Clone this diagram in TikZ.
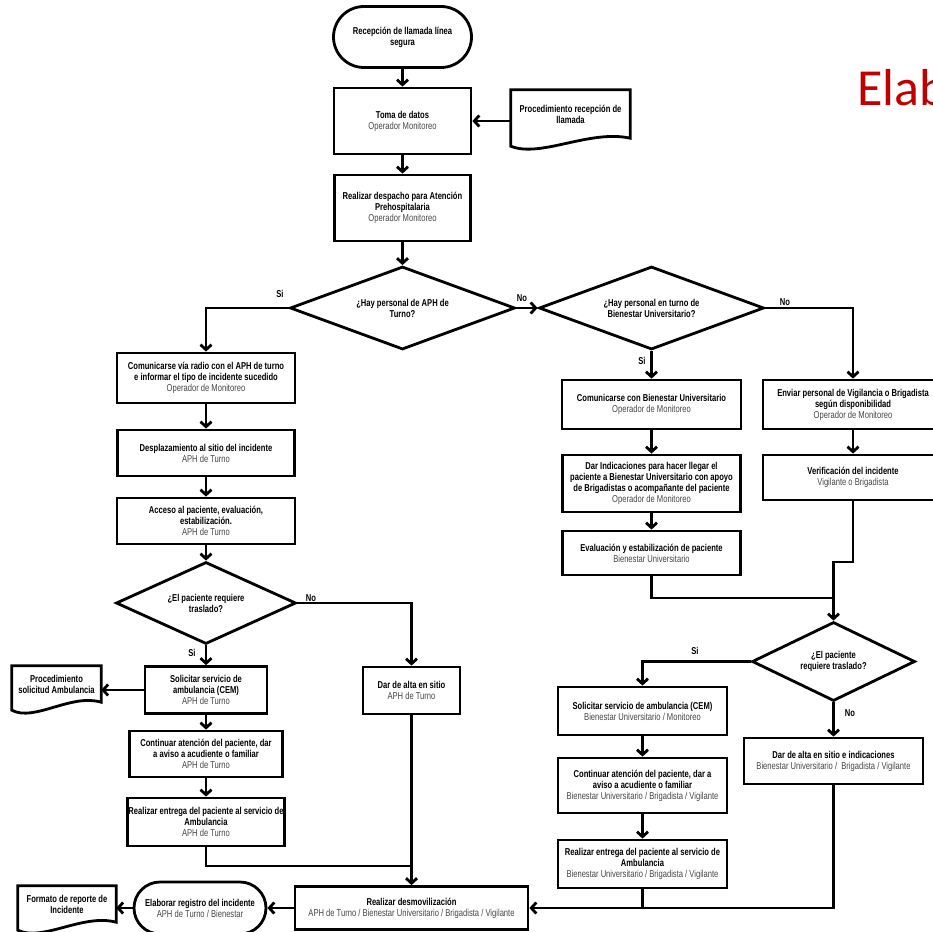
\documentclass[tikz,border=0pt]{standalone}
\usepackage{fontspec}
\setmainfont[FakeStretch=0.76]{Liberation Sans}
\newfontfamily\titlefont{Carlito}
\usetikzlibrary{shapes.geometric,shapes.misc,arrows.meta,calc}
\definecolor{subgray}{RGB}{70,70,70}
\definecolor{titlered}{RGB}{192,0,0}
\newcommand\fsz{\fontsize{10}{11}\selectfont}
\newcommand\rolet[1]{\\{\mdseries\color{subgray}#1}}
\newcommand\docoutline[1]{\draw[dline] (#1.south east) -- (#1.north east) -- (#1.north west) -- ($(#1.south west)+(0,8)$) .. controls ($(#1.south west)!0.25!(#1.south east)+(0,20)$) and ($(#1.south west)!0.66!(#1.south east)+(0,-9)$) .. (#1.south east) -- cycle;}
\begin{document}
\begin{tikzpicture}[x=1pt,y=-1pt,
  wh/.style 2 args={minimum width=#1pt, minimum height=#2pt},
  box/.style={draw, rectangle, line width=2.8pt, align=center, inner sep=1pt, font=\fsz\bfseries},
  term/.style={draw, rounded rectangle, line width=2.8pt, align=center, inner sep=1pt, font=\fsz\bfseries},
  dia/.style={draw, diamond, aspect=2.7, line width=2.8pt, align=center, inner sep=0pt, font=\fsz\bfseries},
  docn/.style={rectangle, align=center, inner sep=1pt, font=\fsz\bfseries},
  dline/.style={line width=2.8pt, line join=miter},
  lbl/.style={font=\fsz\bfseries, inner sep=0pt},
  arr/.style={line width=2.8pt, -{Straight Barb[length=5pt,width=11pt]}},
  conn/.style={line width=2.8pt}
]
\useasboundingbox (0,0) rectangle (933,931);

% title
\node[anchor=base west, inner sep=0pt, font=\titlefont\fontsize{52}{52}\selectfont, text=titlered] (ttl) at (857,106) {Elab};

% top column
\node[term, wh={140}{61}] (n1) at (402.5,37) {Recepción de llamada línea\\segura};
\node[box, wh={137}{66}] (n2) at (402.5,121) {Toma de datos\rolet{Operador Monitoreo}};
\node[docn, wh={119}{48}] (doc1) at (570.5,114) {Procedimiento recepción de\\llamada};
\docoutline{doc1}
\node[box, wh={136}{66}] (n3) at (402.5,208) {Realizar despacho para Atención\\Prehospitalaria\rolet{Operador Monitoreo}};
\node[dia, wh={225}{83}] (d1) at (402.5,308) {¿Hay personal de APH de\\Turno?};
\node[dia, wh={225}{83}] (d2) at (651.5,308) {¿Hay personal en turno de\\Bienestar Universitario?};

% left column
\node[box, wh={178}{50}] (c1) at (206,378) {Comunicarse vía radio con el APH de turno\\e informar el tipo de incidente sucedido\rolet{Operador de Monitoreo}};
\node[box, wh={177}{46}] (c2) at (206,453) {Desplazamiento al sitio del incidente\rolet{APH de Turno}};
\node[box, wh={178}{46}] (c3) at (206,521) {Acceso al paciente, evaluación,\\estabilización.\rolet{APH de Turno}};
\node[dia, wh={180}{82}] (d3) at (206,603) {¿El paciente requiere\\traslado?};
\node[box, wh={122}{47}] (sol1) at (206,690) {Solicitar servicio de\\ambulancia (CEM)\rolet{APH de Turno}};
\node[docn, wh={89}{36}] (doc2) at (56.5,684) {Procedimiento\\solicitud Ambulancia};
\docoutline{doc2}
\node[box, wh={97}{47}] (alta1) at (411.5,690.5) {Dar de alta en sitio\rolet{APH de Turno}};
\node[box, wh={153}{46}] (cont1) at (206,754) {Continuar atención del paciente, dar\\a aviso a acudiente o familiar\rolet{APH de Turno}};
\node[box, wh={155}{48}] (ent1) at (206,822) {Realizar entrega del paciente al servicio de\\Ambulancia\rolet{APH de Turno}};

% bottom row
\node[box, wh={233}{43}] (desm) at (411.5,908) {Realizar desmovilización\rolet{APH de Turno / Bienestar Universitario / Brigadista / Vigilante}};
\node[term, wh={134}{52}] (elab) at (200,908) {Elaborar registro del incidente\rolet{APH de Turno / Bienestar}};
\node[docn, wh={98}{36}] (doc3) at (67,904) {Formato de reporte de\\Incidente};
\docoutline{doc3}

% right-middle column
\node[box, wh={179}{49}] (cb1) at (651.5,404.5) {Comunicarse con Bienestar Universitario\rolet{Operador de Monitoreo}};
\node[box, wh={178}{57}] (di1) at (651.5,483.5) {Dar Indicaciones para hacer llegar el\\paciente a Bienestar Universitario con apoyo\\de Brigadistas o acompañante del paciente\rolet{Operador de Monitoreo}};
\node[box, wh={178}{44}] (ev1) at (651.5,553) {Evaluación y estabilización de paciente\rolet{Bienestar Universitario}};

% far right column
\node[box, wh={180}{49}] (env) at (853,404.5) {Enviar personal de Vigilancia o Brigadista\\según disponibilidad\rolet{Operador de Monitoreo}};
\node[box, wh={180}{45}] (ver1) at (853,477.5) {Verificación del incidente\rolet{Vigilante o Brigadista}};

\node[dia, wh={163}{79}] (d4) at (833.5,661.5) {¿El paciente\\requiere traslado?};
\node[box, wh={169}{48}] (sol2) at (642.5,711) {Solicitar servicio de ambulancia (CEM)\rolet{Bienestar Universitario / Monitoreo}};
\node[box, wh={169}{55}] (cont2) at (642.5,785.5) {Continuar atención del paciente, dar a\\aviso a acudiente o familiar\rolet{Bienestar Universitario / Brigadista / Vigilante}};
\node[box, wh={169}{48}] (ent2) at (642.5,864) {Realizar entrega del paciente al servicio de\\Ambulancia\rolet{Bienestar Universitario / Brigadista / Vigilante}};
\node[box, wh={179}{46}] (alta2) at (833.5,761) {Dar de alta en sitio e indicaciones\rolet{Bienestar Universitario /\ \ Brigadista / Vigilante}};

% labels
\node[lbl] (si1) at (280,294) {Si};
\node[lbl] (no1) at (522,298) {No};
\node[lbl] (si2) at (642,361) {Si};
\node[lbl] (no2) at (785,302) {No};
\node[lbl] (si3) at (192,653) {Si};
\node[lbl] (no3) at (311,598) {No};
\node[lbl] (si4) at (695,651) {Si};
\node[lbl] (no4) at (850,713) {No};

% junction coordinates
\coordinate (j1) at (411.5,866);
\coordinate (j2) at (833.5,598);
\coordinate (j3) at (833.5,562);

% connectors
\draw[arr] (n1.south) -- (n2.north);
\draw[arr] (doc1.west |- n2.east) -- (n2.east);
\draw[arr] (n2.south) -- (n3.north);
\draw[arr] (n3.south) -- (d1.north);
\draw[arr] (d1.west) -| (c1.north);
\draw[arr] (d1.east) -- (d2.west);
\draw[arr] (d2.south) -- (cb1.north);
\draw[arr] (d2.east) -| (env.north);
\draw[arr] (c1.south) -- (c2.north);
\draw[arr] (c2.south) -- (c3.north);
\draw[arr] (c3.south) -- (d3.north);
\draw[arr] (d3.south) -- (sol1.north);
\draw[arr] (d3.east) -| (alta1.north);
\draw[arr] (sol1.west) -- (doc2.east |- sol1.west);
\draw[arr] (sol1.south) -- (cont1.north);
\draw[arr] (cont1.south) -- (ent1.north);
\draw[conn] (ent1.south) |- (j1);
\draw[arr] (alta1.south) -- (desm.north);
\draw[arr] (desm.west) -- (elab.east);
\draw[arr] (elab.west) -- (doc3.east |- elab.west);
\draw[arr] (cb1.south) -- (di1.north);
\draw[arr] (di1.south) -- (ev1.north);
\draw[arr] (env.south) -- (ver1.north);
\draw[conn] (ver1.south) |- (j3) -- (j2);
\draw[arr] (ev1.south) |- (j2) -- (d4.north);
\draw[arr] (d4.west) -| (sol2.north);
\draw[arr] (d4.south) -- (alta2.north);
\draw[arr] (sol2.south) -- (cont2.north);
\draw[arr] (cont2.south) -- (ent2.north);
\draw[arr] (alta2.south) |- (desm.east);
\draw[conn] (ent2.south) -- (ent2.south |- desm.east);
\end{tikzpicture}
\end{document}
